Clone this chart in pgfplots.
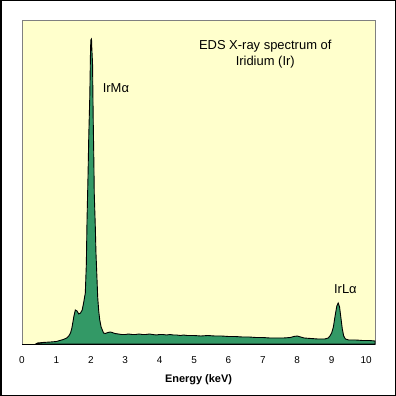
\documentclass[border=0pt]{standalone}
\usepackage{pgfplots}
\pgfplotsset{compat=1.18}
\usepackage{fontspec}
\setmainfont{Liberation Sans}
\definecolor{bgyellow}{RGB}{255,255,204}
\definecolor{specgreen}{RGB}{51,153,102}
\definecolor{framegray}{RGB}{128,128,128}
\begin{document}
\begin{tikzpicture}
\useasboundingbox (0bp,0bp) rectangle (396bp,396bp);
\fill[white] (0bp,0bp) rectangle (396bp,396bp);
\draw[black, line width=1.5bp] (0.75bp,0.75bp) rectangle (395.25bp,395.25bp);
\begin{axis}[
  at={(22bp,52bp)}, anchor=south west,
  scale only axis, width=353bp, height=324bp,
  xmin=0, xmax=10.26, ymin=0, ymax=324,
  axis background/.style={fill=bgyellow},
  axis line style={draw=framegray, line width=0.8bp},
  ytick=\empty,
  xtick={0,1,2,3,4,5,6,7,8,9,10},
  major tick length=0pt,
  /pgf/number format/assume math mode=true,
  xticklabel style={font=\fontsize{10}{12}\selectfont, yshift=-9bp},
  xlabel={Energy (keV)},
  xlabel style={font=\fontsize{11}{13}\selectfont\bfseries, at={(axis description cs:0.5,0)}, anchor=center, yshift=-36bp},
  clip=false,
]
\addplot[fill=specgreen, draw=black, line width=0.9bp] coordinates {
(0.40,0) (0.45,1) (0.6,1.5) (0.83,2) (1.0,2.5) (1.2,4.5) (1.3,6) (1.36,8) (1.41,11)
(1.45,16) (1.48,22) (1.51,28) (1.55,34) (1.60,33) (1.65,30) (1.70,31) (1.75,34)
(1.79,41) (1.84,51) (1.87,80) (1.89,124) (1.92,170) (1.94,207) (1.97,247) (1.99,290)
(2.00,304) (2.02,305) (2.03,295) (2.05,281) (2.07,224) (2.09,180) (2.10,151)
(2.13,118) (2.15,91) (2.18,65) (2.20,47) (2.23,33) (2.26,24) (2.30,17) (2.37,11)
(2.42,10.5) (2.50,11.5) (2.57,12) (2.62,11.5) (2.70,10.5) (2.80,10) (2.90,9.5)
(3.00,9.5) (3.1,10) (3.2,9.5) (3.3,9.5) (3.4,10) (3.5,9.5) (3.6,9.5) (3.7,10)
(3.8,9.5) (3.9,9) (4.0,9.5) (4.1,9.5) (4.2,9) (4.3,9.5) (4.4,9) (4.5,9) (4.6,8.5)
(4.7,9) (4.8,8.5) (4.9,8.5) (5.0,8.5) (5.2,8) (5.4,8.5) (5.6,8) (5.8,8) (6.0,7.5)
(6.2,7.5) (6.4,7) (6.6,7) (6.8,6.5) (7.0,6.5) (7.2,6) (7.4,6) (7.6,6) (7.8,6.5)
(7.9,7.5) (8.0,8) (8.1,7) (8.2,6) (8.4,5.5) (8.6,5) (8.8,5) (8.9,6) (8.95,8)
(9.0,11) (9.05,17) (9.1,28) (9.15,38) (9.19,41) (9.23,37) (9.27,26) (9.31,15)
(9.35,8) (9.4,5) (9.5,4) (9.7,4) (9.9,3.5) (10.1,3.5) (10.26,3)
} \closedcycle;
\addplot[black, line width=1bp] coordinates {(0,0) (10.26,0)};
\node[font=\fontsize{13}{16}\selectfont, align=center] at (axis cs:7.07,290) {EDS X-ray spectrum of\\Iridium (Ir)};
\node[font=\fontsize{13}{16}\selectfont] at (axis cs:2.73,256) {IrMα};
\node[font=\fontsize{13}{16}\selectfont] at (axis cs:9.40,55) {IrLα};
\end{axis}
\end{tikzpicture}
\end{document}
